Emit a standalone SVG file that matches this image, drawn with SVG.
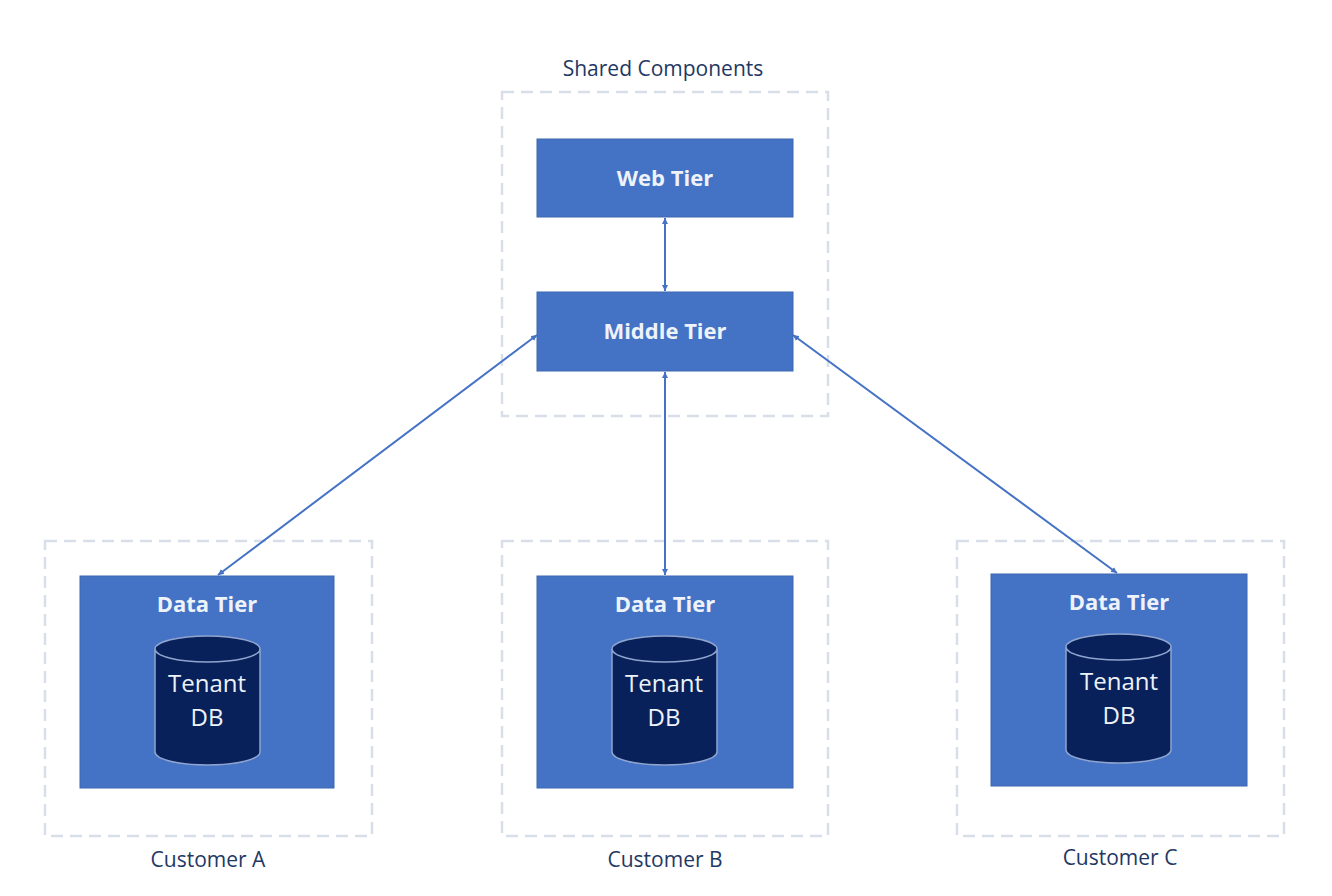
<svg xmlns="http://www.w3.org/2000/svg" width="1332" height="896" viewBox="0 0 1332 896">
<style>
.dash{fill:none;stroke:#d9dfe9;stroke-width:2.5;stroke-dasharray:12 7}
.box{fill:#4472c4;stroke:#3d66b0;stroke-width:1}
.lbl{font-family:"Open Sans","Liberation Sans",sans-serif;fill:#1f3864;font-size:21px;text-anchor:middle}
.wt{font-family:"Open Sans","Liberation Sans",sans-serif;fill:#eef2f9;font-size:22px;font-weight:bold;text-anchor:middle}
.db{font-family:"Open Sans","Liberation Sans",sans-serif;fill:#eef2f9;font-size:24px;text-anchor:middle}
.cyl{fill:#08215a;stroke:#8fa5d0;stroke-width:1.5}
.con{stroke:#4472c4;stroke-width:2;fill:none;marker-start:url(#ah);marker-end:url(#ah)}
</style>
<defs>
<marker id="ah" viewBox="0 0 10 10" refX="10" refY="5" markerWidth="6" markerHeight="6" orient="auto-start-reverse" markerUnits="userSpaceOnUse"><path d="M0,0L10,5L0,10z" fill="#4472c4"/></marker>
</defs>
<rect width="1332" height="896" fill="#fff"/>
<g id="shared">
<rect class="dash" x="502" y="92" width="326" height="324"/>
<text class="lbl" x="663" y="76">Shared Components</text>
</g>
<g id="web"><rect class="box" x="537" y="139" width="256" height="78"/><text class="wt" x="665" y="186">Web Tier</text></g>
<g id="middle"><rect class="box" x="537" y="292" width="256" height="79"/><text class="wt" x="665" y="339">Middle Tier</text></g>
<g id="custA">
<rect class="dash" x="45" y="541" width="327" height="295"/>
<rect class="box" x="80" y="576" width="254" height="212"/>
<text class="wt" x="207" y="612">Data Tier</text>
<path class="cyl" d="M155,649 L155,752 A52.5,13 0 0 0 260,752 L260,649 A52.5,13 0 0 0 155,649 A52.5,13 0 0 0 260,649"/>
<text class="db" x="207" y="692">Tenant</text><text class="db" x="207" y="726">DB</text>
<text class="lbl" x="208" y="867">Customer A</text>
</g>
<g id="custB">
<rect class="dash" x="502" y="541" width="326" height="295"/>
<rect class="box" x="537" y="576" width="256" height="212"/>
<text class="wt" x="665" y="612">Data Tier</text>
<path class="cyl" d="M612,649 L612,752 A52.5,13 0 0 0 717,752 L717,649 A52.5,13 0 0 0 612,649 A52.5,13 0 0 0 717,649"/>
<text class="db" x="664" y="692">Tenant</text><text class="db" x="664" y="726">DB</text>
<text class="lbl" x="665" y="867">Customer B</text>
</g>
<g id="custC">
<rect class="dash" x="957" y="541" width="327" height="295"/>
<rect class="box" x="991" y="574" width="256" height="212"/>
<text class="wt" x="1119" y="610">Data Tier</text>
<path class="cyl" d="M1066,647 L1066,750 A52.5,13 0 0 0 1171,750 L1171,647 A52.5,13 0 0 0 1066,647 A52.5,13 0 0 0 1171,647"/>
<text class="db" x="1119" y="690">Tenant</text><text class="db" x="1119" y="724">DB</text>
<text class="lbl" x="1120" y="865">Customer C</text>
</g>
<g id="connectors">
<line class="con" x1="665" y1="218" x2="665" y2="291"/>
<line class="con" x1="537" y1="335" x2="218" y2="575"/>
<line class="con" x1="665" y1="372" x2="665" y2="575"/>
<line class="con" x1="793" y1="335" x2="1117" y2="573"/>
</g>
</svg>
